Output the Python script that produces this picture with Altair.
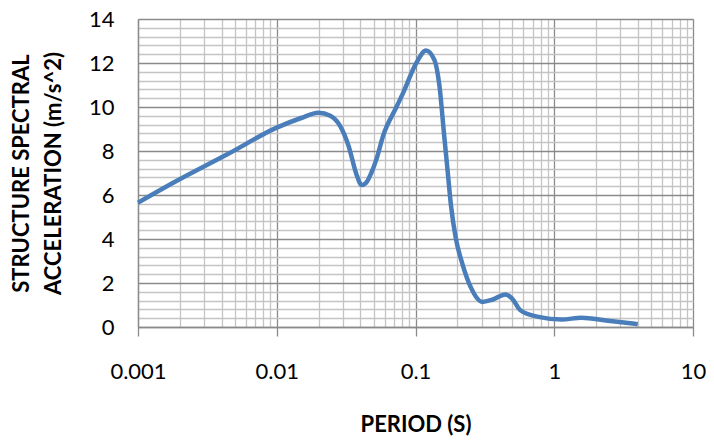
import altair as alt
import pandas as pd

# Data
period = [0.001, 0.00185, 0.00444, 0.01, 0.015, 0.020, 0.0243, 0.0286, 0.0329,
          0.0377, 0.0409, 0.044, 0.048, 0.0524, 0.0584, 0.0729, 0.0813, 0.101,
          0.119, 0.137, 0.149, 0.161, 0.171, 0.180, 0.195, 0.218, 0.25, 0.303,
          0.357, 0.445, 0.497, 0.57, 0.77, 1.13, 1.57, 2.44, 4.0]
accel = [5.65, 6.6, 7.86, 9.06, 9.5, 9.74, 9.6, 9.14, 8.24,
         6.9, 6.45, 6.55, 7.0, 7.64, 8.69, 10.0, 10.63, 11.98,
         12.57, 12.13, 10.93, 8.69, 7.0, 5.55, 4.05, 2.86, 1.81, 1.14,
         1.24, 1.48, 1.29, 0.76, 0.46, 0.34, 0.42, 0.28, 0.13]

# Axis ticks / labels
x_major = [0.001, 0.01, 0.1, 1, 10]
x_ticks = [0.001, 0.002, 0.003, 0.004, 0.005, 0.006, 0.007, 0.008, 0.009,
           0.01, 0.02, 0.03, 0.04, 0.05, 0.06, 0.07, 0.08, 0.09,
           0.1, 0.2, 0.3, 0.4, 0.5, 0.6, 0.7, 0.8, 0.9,
           1, 2, 3, 4, 5, 6, 7, 8, 9, 10]
y_ticks = [0, 0.4, 0.8, 1.2, 1.6, 2, 2.4, 2.8, 3.2, 3.6, 4, 4.4, 4.8, 5.2, 5.6,
           6, 6.4, 6.8, 7.2, 7.6, 8, 8.4, 8.8, 9.2, 9.6, 10, 10.4, 10.8, 11.2,
           11.6, 12, 12.4, 12.8, 13.2, 13.6, 14]

x_title = "PERIOD (S)"
y_title = ["STRUCTURE SPECTRAL", "ACCELERATION (m/s^2)"]

df = pd.DataFrame({"period": period, "accel": accel})

FONT = "Lato"
MAJOR = "#8A8A8A"
MINOR = "#C4C4C4"

x_is_major = "indexof(" + str(x_major) + ", datum.value) >= 0"
y_is_major = "datum.value % 2 == 0"

chart = alt.Chart(df).mark_line(
    color="#4A7EBB", strokeWidth=4.5, interpolate="monotone"
).encode(
    x=alt.X("period:Q",
            scale=alt.Scale(type="log", domain=[0.001, 10], nice=False),
            axis=alt.Axis(
                values=x_ticks,
                labelExpr=x_is_major + " ? toString(datum.value) : ''",
                grid=True,
                gridColor={"condition": {"test": x_is_major, "value": MAJOR}, "value": MINOR},
                gridWidth=1.3,
                tickColor=MAJOR,
                tickOpacity={"condition": {"test": x_is_major, "value": 1}, "value": 0},
                tickSize=9, tickWidth=1.3,
                domainColor=MAJOR, domainWidth=1.3,
                labelFont=FONT, labelFontSize=22, labelColor="#000000",
                labelPadding=25, labelFlush=False, labelOverlap=False,
                title=x_title, titleFont=FONT, titleFontSize=22,
                titleFontWeight="bold", titleColor="#000000",
                titleY=97, titleBaseline="middle",
            )),
    y=alt.Y("accel:Q",
            scale=alt.Scale(domain=[0, 14], nice=False, zero=True),
            axis=alt.Axis(
                values=y_ticks,
                labelExpr=y_is_major + " ? toString(datum.value) : ''",
                grid=True,
                gridColor={"condition": {"test": y_is_major, "value": MAJOR}, "value": MINOR},
                gridWidth=1.3,
                ticks=False,
                domainColor=MAJOR, domainWidth=1.3,
                labelFont=FONT, labelFontSize=22, labelColor="#000000",
                labelPadding=24, labelFlush=False, labelOverlap=False,
                title=y_title, titleFont=FONT, titleFontSize=22,
                titleFontWeight="bold", titleColor="#000000",
                titleX=-117, titleY=154, titleAlign="center",
                titleBaseline="middle", titleLineHeight=32, titleAngle=270,
            )),
).properties(
    width=555,
    height=308,
    autosize=alt.AutoSizeParams(type="none"),
    padding={"left": 130, "top": 11, "right": 13, "bottom": 109},
).configure_view(stroke=None).configure(background="white")

chart.save("out.html", embed_options={"renderer": "svg", "actions": False})
